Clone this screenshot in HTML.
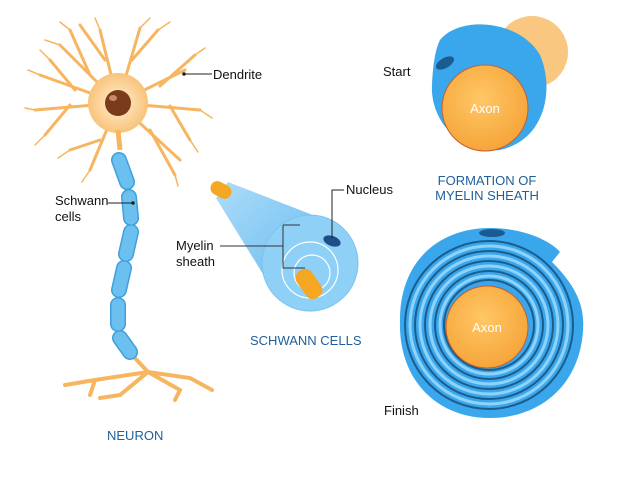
<!DOCTYPE html>
<html><head><style>
html,body{margin:0;padding:0;background:#fff;}
svg{display:block;font-family:"Liberation Sans",Arial,sans-serif;}
</style></head><body>
<svg width="620" height="480" viewBox="0 0 620 480" xmlns="http://www.w3.org/2000/svg">
<defs>
<radialGradient id="soma" cx="50%" cy="50%" r="50%"><stop offset="0" stop-color="#fff1d6"/><stop offset="1" stop-color="#f9c37a"/></radialGradient>
<radialGradient id="axon" cx="45%" cy="40%" r="60%"><stop offset="0" stop-color="#ffc766"/><stop offset="1" stop-color="#f6a53a"/></radialGradient>
<linearGradient id="cone" x1="0" y1="0" x2="1" y2="1"><stop offset="0" stop-color="#9ed6f8"/><stop offset="1" stop-color="#3fa9ec"/></linearGradient>
</defs>
<!-- dendrites -->
<g stroke="#f7b560" stroke-linecap="round" fill="none" stroke-width="3">
<path d="M118 103 L60 45 M90 75 L70 30 M118 103 L100 30 M105 60 L80 25 M118 103 L140 28 M132 60 L158 30 M118 103 L185 70 M160 86 L195 55 M118 103 L200 110 M170 106 L190 140 M118 103 L180 160 M150 130 L175 175 M118 103 L90 170 M100 140 L70 150 M118 103 L35 110 M70 105 L45 135 M118 103 L40 75 M75 90 L50 60"/>
</g>
<g stroke="#f7b560" stroke-linecap="round" fill="none" stroke-width="1.5">
<path d="M60 45 L45 40 M70 30 L60 22 M100 30 L95 18 M140 28 L150 18 M158 30 L170 22 M195 55 L205 48 M200 110 L212 118 M190 140 L198 152 M175 175 L178 186 M90 170 L82 182 M70 150 L58 158 M35 110 L25 108 M45 135 L35 145 M40 75 L28 70 M50 60 L40 50"/>
</g>
<circle cx="118" cy="103" r="30" fill="url(#soma)"/>
<circle cx="118" cy="103" r="13" fill="#7a3a1c"/>
<ellipse cx="113" cy="98" rx="4" ry="3" fill="#c98a6a"/>
<path d="M118 130 L120 150" stroke="#f7b560" stroke-width="5"/>
<!-- terminals -->
<g stroke="#f7b560" stroke-linecap="round" fill="none" stroke-width="4">
<path d="M133 356 L148 372 L95 380 L65 385 M148 372 L190 378 L212 390 M148 372 L120 395 M95 380 L90 395 M148 372 L180 390 L175 400 M120 395 L100 398"/>
</g>
<!-- axon segments -->
<g stroke-linecap="round">
<g stroke="#3f9fdc" stroke-width="16">
<path d="M119 160 L127 182 M129 197 L131 218 M131 232 L126 254 M124 268 L119 290 M118 305 L118 324 M120 338 L130 352"/>
</g>
<g stroke="#6cc0f0" stroke-width="13">
<path d="M119 160 L127 182 M129 197 L131 218 M131 232 L126 254 M124 268 L119 290 M118 305 L118 324 M120 338 L130 352"/>
</g>
</g>
<!-- labels neuron -->
<g font-size="13" fill="#111">
<text x="213" y="79">Dendrite</text>
<text x="55" y="205">Schwann</text><text x="55" y="221">cells</text>
</g>
<line x1="184" y1="74" x2="212" y2="74" stroke="#222"/><circle cx="184" cy="74" r="1.8" fill="#222"/>
<line x1="108" y1="203" x2="133" y2="203" stroke="#222"/><circle cx="133" cy="203" r="1.8" fill="#222"/>
<text x="107" y="440" font-size="13" fill="#1f5f9a">NEURON</text>
<!-- schwann cylinder -->
<path d="M228 182 L341 226 L279 300 L216 198 Z" fill="url(#cone)" opacity="0.85"/>
<rect x="210" y="183" width="22" height="14" rx="7" fill="#f5a623" transform="rotate(28 221 190)"/>
<circle cx="310" cy="263" r="48" fill="#8fd0f6" stroke="#7cc3ef"/>
<circle cx="310" cy="270" r="28" fill="none" stroke="#fff" stroke-width="1.2"/>
<circle cx="312" cy="273" r="18" fill="none" stroke="#fff" stroke-width="1.2"/>
<rect x="300" y="268" width="18" height="32" rx="8" fill="#f5a623" transform="rotate(-35 309 284)"/>
<ellipse cx="332" cy="241" rx="9" ry="5" fill="#1d4f86" transform="rotate(20 332 241)"/>
<path d="M332 238 L332 190 L344 190" fill="none" stroke="#222"/>
<path d="M283 225 L283 268 L305 268 M283 225 L300 225 M220 246 L283 246" fill="none" stroke="#333" stroke-width="1"/>
<g font-size="13" fill="#111">
<text x="346" y="194">Nucleus</text>
<text x="176" y="250">Myelin</text><text x="176" y="266">sheath</text>
</g>
<text x="250" y="345" font-size="13" fill="#1f5f9a">SCHWANN CELLS</text>
<!-- start -->
<circle cx="532" cy="52" r="36" fill="#f9c77f"/>
<path d="M440 40 C460 15 520 20 540 55 C555 90 545 140 500 150 C460 155 430 120 432 85 C433 65 435 50 440 40 Z" fill="#3aa7ec"/>
<circle cx="485" cy="108" r="43" fill="url(#axon)" stroke="#c1602a"/>
<ellipse cx="445" cy="63" rx="10" ry="5" fill="#1d5a92" transform="rotate(-30 445 63)"/>
<text x="485" y="113" font-size="13" fill="#fff" text-anchor="middle">Axon</text>
<text x="383" y="76" font-size="13" fill="#111">Start</text>
<text x="487" y="185" font-size="13" fill="#1f5f9a" text-anchor="middle">FORMATION OF</text>
<text x="487" y="200" font-size="13" fill="#1f5f9a" text-anchor="middle">MYELIN SHEATH</text>
<!-- finish -->
<path d="M400 320 C400 260 440 228 490 228 C530 228 555 245 560 252 L552 262 C575 285 585 305 583 330 C580 385 540 418 490 418 C435 418 398 378 400 320 Z" fill="#3aa7ec"/>
<g fill="none">
<circle cx="489" cy="325" r="84" stroke="#1b5d8e" stroke-width="2"/>
<circle cx="489" cy="325" r="79" stroke="#8fd3fa" stroke-width="3"/>
<circle cx="489" cy="325" r="74" stroke="#1b5d8e" stroke-width="2"/>
<circle cx="489" cy="325" r="69" stroke="#8fd3fa" stroke-width="3"/>
<circle cx="489" cy="325" r="64" stroke="#1b5d8e" stroke-width="2"/>
<circle cx="489" cy="325" r="59" stroke="#8fd3fa" stroke-width="3"/>
<circle cx="489" cy="325" r="54" stroke="#1b5d8e" stroke-width="2"/>
<circle cx="489" cy="325" r="49" stroke="#8fd3fa" stroke-width="3"/>
<circle cx="489" cy="325" r="45" stroke="#1b5d8e" stroke-width="2"/>
</g>
<ellipse cx="492" cy="233" rx="13" ry="4" fill="#1d5a92"/>
<circle cx="487" cy="327" r="41" fill="url(#axon)" stroke="#c1602a"/>
<text x="487" y="332" font-size="13" fill="#fff" text-anchor="middle">Axon</text>
<text x="384" y="415" font-size="13" fill="#111">Finish</text>
</svg>
</body></html>
